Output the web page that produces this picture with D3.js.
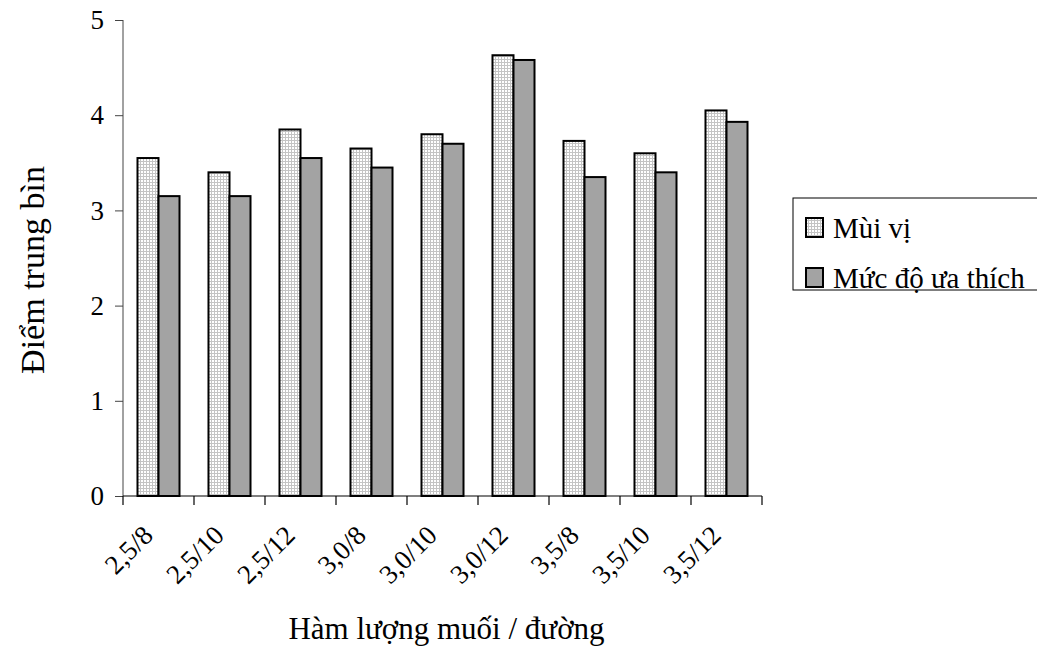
<!DOCTYPE html>
<html>
<head>
<meta charset="utf-8">
<script src="https://cdn.jsdelivr.net/npm/d3@7"></script>
<style>
  body { margin: 0; background: #fff; }
  text { font-family: "Liberation Serif", "Times New Roman", serif; fill: #000; }
</style>
</head>
<body>
<div id="chart"></div>
<script>
const categories = ['2,5/8', '2,5/10', '2,5/12', '3,0/8', '3,0/10', '3,0/12', '3,5/8', '3,5/10', '3,5/12'];
const seriesNames = ['Mùi vị', 'Mức độ ưa thích'];
const muiVi = [3.55, 3.4, 3.85, 3.65, 3.8, 4.63, 3.73, 3.6, 4.05];
const mucDoUaThich = [3.15, 3.15, 3.55, 3.45, 3.7, 4.58, 3.35, 3.4, 3.93];
const yTicks = [0, 1, 2, 3, 4, 5];

const width = 1037;
const height = 656;
const plot = {left: 123, right: 762, top: 20, bottom: 496};

const svg = d3.select('#chart')
  .append('svg')
    .attr('width', width)
    .attr('height', height);

// dotted fill for the first series
const defs = svg.append('defs');
const pattern = defs.append('pattern')
  .attr('id', 'dots')
  .attr('patternUnits', 'userSpaceOnUse')
  .attr('width', 3)
  .attr('height', 3);
pattern.append('rect').attr('width', 3).attr('height', 3).attr('fill', '#c4c4c4');
pattern.append('rect').attr('width', 2).attr('height', 2).attr('fill', '#ffffff');

const fills = ['url(#dots)', '#a3a3a3'];

const x = d3.scaleBand()
  .domain(categories)
  .range([plot.left, plot.right]);

const xSeries = d3.scaleBand()
  .domain([0, 1])
  .range([0, x.bandwidth()])
  .paddingOuter(0.69);

const y = d3.scaleLinear()
  .domain([0, 5])
  .range([plot.bottom, plot.top]);

// y axis
const yAxis = svg.append('g')
  .attr('transform', `translate(${plot.left}, 0)`)
  .call(d3.axisLeft(y).tickValues(yTicks).tickSize(8).tickPadding(11).tickFormat(d3.format('d')));
yAxis.select('.domain').attr('stroke', '#444').attr('d', `M0,${plot.top}V${plot.bottom}`);
yAxis.selectAll('.tick line').attr('stroke', '#444');
yAxis.selectAll('.tick text')
  .style('font-family', '"Liberation Serif", serif')
  .style('font-size', '27px')
  .attr('fill', '#000');

// bars
const data = categories.map((c, i) => ({cat: c, values: [muiVi[i], mucDoUaThich[i]]}));
const groups = svg.append('g')
  .selectAll('.cat')
  .data(data)
  .join('g')
    .attr('class', 'cat')
    .attr('transform', d => `translate(${x(d.cat)}, 0)`);
groups.selectAll('rect')
  .data(d => d.values.map((v, k) => ({k, v})))
  .join('rect')
    .attr('x', d => xSeries(d.k))
    .attr('y', d => y(d.v))
    .attr('width', xSeries.bandwidth())
    .attr('height', d => y(0) - y(d.v))
    .attr('fill', d => fills[d.k])
    .attr('stroke', '#000')
    .attr('stroke-width', 2);

// x axis line and boundary ticks
const xAxis = svg.append('g').attr('stroke', '#000').attr('stroke-width', 1.2);
xAxis.append('line')
  .attr('x1', plot.left).attr('x2', plot.right)
  .attr('y1', plot.bottom).attr('y2', plot.bottom);
const bounds = categories.map(c => x(c)).concat([x.range()[1]]);
xAxis.selectAll('.xtick')
  .data(bounds)
  .join('line')
    .attr('class', 'xtick')
    .attr('x1', d => d).attr('x2', d => d)
    .attr('y1', plot.bottom).attr('y2', plot.bottom + 9);

// category labels, rotated
svg.append('g')
  .selectAll('text')
  .data(categories)
  .join('text')
    .attr('transform', d => `translate(${x(d) + x.bandwidth() / 2 - 4}, 537) rotate(-45)`)
    .attr('text-anchor', 'end')
    .style('font-size', '27px')
    .text(d => d);

// axis titles
svg.append('text')
  .attr('x', (plot.left + plot.right) / 2 + 4)
  .attr('y', 639)
  .attr('text-anchor', 'middle')
  .style('font-size', '31px')
  .text('Hàm lượng muối / đường');

svg.append('text')
  .attr('transform', 'translate(44, 270) rotate(-90)')
  .attr('text-anchor', 'middle')
  .style('font-size', '34px')
  .text('Điểm trung bìn');

// legend
const legend = svg.append('g').attr('transform', 'translate(793, 198)');
legend.append('rect')
  .attr('width', 260)
  .attr('height', 92)
  .attr('fill', '#fff')
  .attr('stroke', '#000')
  .attr('stroke-width', 1);
const items = legend.selectAll('.item')
  .data(seriesNames)
  .join('g')
    .attr('class', 'item')
    .attr('transform', (d, i) => `translate(13, ${20 + i * 50})`);
items.append('rect')
  .attr('width', 17)
  .attr('height', 19)
  .attr('fill', (d, i) => fills[i])
  .attr('stroke', '#000')
  .attr('stroke-width', 2);
items.append('text')
  .attr('x', 27)
  .attr('y', 20)
  .style('font-size', '29px')
  .text(d => d);
</script>
</body>
</html>
